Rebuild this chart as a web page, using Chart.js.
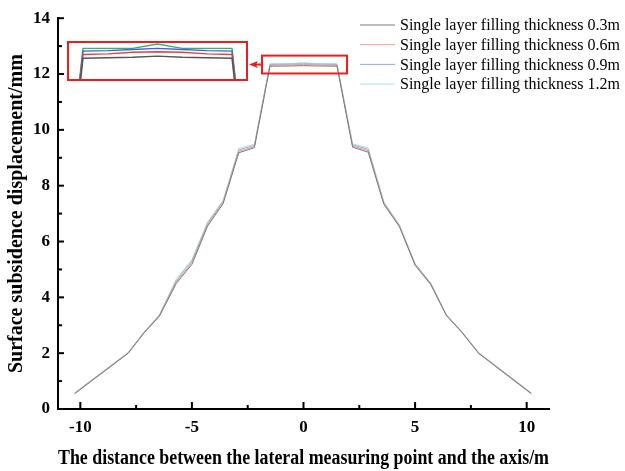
<!DOCTYPE html>
<html>
<head>
<meta charset="utf-8">
<script src="https://cdn.jsdelivr.net/npm/chart.js@4.4.0/dist/chart.umd.min.js"></script>
<style>
  html, body { margin: 0; padding: 0; background: #fff; }
  #wrap { position: relative; width: 625px; height: 471px; }
  #main { position: absolute; left: 0; top: 0; }
  #inset { position: absolute; left: 67px; top: 41px; }
</style>
</head>
<body>
<div id="wrap">
  <canvas id="main" width="625" height="471"></canvas>
  <canvas id="inset" width="181" height="40"></canvas>
</div>
<script>
// distance from the axis (m)
const distances = [-10.25, -7.85, -7.15, -6.45, -5.7, -5.0, -4.3, -3.6, -2.9, -2.2, -1.5, -1.0, -0.5, 0, 0.5, 1.0, 1.5, 2.2, 2.9, 3.6, 4.3, 5.0, 5.7, 6.4, 7.1, 7.85, 10.2];

// surface subsidence (mm) per single layer filling thickness
const thick03 = [0.55, 2.00, 2.72, 3.33, 4.50, 5.18, 6.55, 7.36, 9.18, 9.36, 12.28, 12.285, 12.29, 12.30, 12.29, 12.285, 12.28, 9.38, 9.20, 7.33, 6.53, 5.15, 4.46, 3.35, 2.74, 1.99, 0.55];
const thick06 = [0.56, 2.01, 2.73, 3.35, 4.55, 5.24, 6.60, 7.40, 9.23, 9.40, 12.315, 12.32, 12.335, 12.34, 12.335, 12.32, 12.315, 9.42, 9.25, 7.36, 6.55, 5.17, 4.48, 3.36, 2.75, 2.00, 0.56];
const thick09 = [0.57, 2.02, 2.74, 3.37, 4.60, 5.30, 6.65, 7.44, 9.28, 9.44, 12.345, 12.35, 12.36, 12.37, 12.36, 12.35, 12.345, 9.46, 9.30, 7.39, 6.57, 5.19, 4.50, 3.37, 2.76, 2.01, 0.57];
const thick12 = [0.58, 2.03, 2.75, 3.39, 4.65, 5.36, 6.70, 7.48, 9.33, 9.48, 12.37, 12.37, 12.37, 12.41, 12.37, 12.37, 12.37, 9.50, 9.35, 7.42, 6.59, 5.21, 4.52, 3.38, 2.77, 2.02, 0.58];

const seriesLabels = [
  'Single layer filling thickness 0.3m',
  'Single layer filling thickness 0.6m',
  'Single layer filling thickness 0.9m',
  'Single layer filling thickness 1.2m'
];
const seriesValues = [thick03, thick06, thick09, thick12];
const mainColors = ['#7a7a7a', '#f29a9a', '#8fb0e2', '#a6e6cc'];
const insetColors = ['#555555', '#e8403c', '#3a66d8', '#33b36a'];

const xTicks = [-10, -5, 0, 5, 10];
const xMinorTicks = [-7.5, -2.5, 2.5, 7.5];
const yTicks = [0, 2, 4, 6, 8, 10, 12, 14];
const yMinorTicks = [1, 3, 5, 7, 9, 11, 13];

// zoomed window shown in the inset
const zoomX = [-1.86, 1.95];
const zoomY = [12.02, 12.66];

Chart.defaults.font.family = '"Liberation Serif", "Times New Roman", serif';
Chart.defaults.color = '#000';

function makeDatasets(colors, width) {
  return seriesValues.map((vals, i) => ({
    label: seriesLabels[i],
    data: distances.map((d, j) => ({ x: d, y: vals[j] })),
    borderColor: colors[i],
    backgroundColor: colors[i],
    borderWidth: width,
    pointRadius: 0,
    tension: 0,
    fill: false
  }));
}

const axisDecor = {
  id: 'axisDecor',
  afterDraw(chart) {
    const { ctx, scales: { x, y } } = chart;
    ctx.save();
    ctx.strokeStyle = '#000';
    ctx.lineWidth = 2;
    const seg = (x1, y1, x2, y2) => { ctx.beginPath(); ctx.moveTo(x1, y1); ctx.lineTo(x2, y2); ctx.stroke(); };
    yTicks.forEach(v => { const p = y.getPixelForValue(v); seg(x.left, p, x.left + 6, p); });
    yMinorTicks.forEach(v => { const p = y.getPixelForValue(v); seg(x.left, p, x.left + 4, p); });
    xTicks.forEach(v => { const p = x.getPixelForValue(v); seg(p, y.bottom, p, y.bottom - 7); });
    xMinorTicks.forEach(v => { const p = x.getPixelForValue(v); seg(p, y.bottom, p, y.bottom - 4); });

    // red box around the plateau + arrow to the inset
    const bx1 = x.getPixelForValue(zoomX[0]), bx2 = x.getPixelForValue(zoomX[1]);
    const by1 = y.getPixelForValue(zoomY[1]), by2 = y.getPixelForValue(zoomY[0]);
    ctx.strokeStyle = '#ee1c1c';
    ctx.lineWidth = 2;
    ctx.strokeRect(bx1, by1, bx2 - bx1, by2 - by1);
    const inset = document.getElementById('inset');
    const tipX = inset.offsetLeft + inset.width + 1;
    const ay = (by1 + by2) / 2;
    seg(bx1, ay, tipX + 7, ay);
    ctx.fillStyle = '#ee1c1c';
    ctx.beginPath();
    ctx.moveTo(tipX, ay);
    ctx.lineTo(tipX + 9, ay - 3.5);
    ctx.lineTo(tipX + 7, ay);
    ctx.lineTo(tipX + 9, ay + 3.5);
    ctx.closePath();
    ctx.fill();

    // legend
    ctx.font = '16px "Liberation Serif", "Times New Roman", serif';
    ctx.textBaseline = 'middle';
    ctx.textAlign = 'left';
    chart.data.datasets.forEach((ds, i) => {
      const ly = 25 + i * 19.7;
      ctx.strokeStyle = ds.borderColor;
      ctx.lineWidth = 1;
      seg(360, ly, 395, ly);
      ctx.fillStyle = '#000';
      ctx.fillText(ds.label, 400, ly + 1);
    });
    ctx.restore();
  }
};

new Chart(document.getElementById('main'), {
  type: 'line',
  data: { datasets: makeDatasets(mainColors, 1) },
  options: {
    responsive: false,
    animation: false,
    layout: { padding: { left: 0, top: 11, right: 76, bottom: 0 } },
    plugins: { legend: { display: false }, tooltip: { enabled: false } },
    scales: {
      x: {
        type: 'linear',
        min: -11,
        max: 11,
        afterFit: s => { s.height = 62; },
        afterBuildTicks: s => { s.ticks = xTicks.map(v => ({ value: v })); },
        grid: { display: false, drawTicks: false },
        border: { display: true, color: '#000', width: 2 },
        ticks: { padding: 8, font: { size: 17, weight: 'bold' }, color: '#000' },
        title: {
          display: true,
          text: 'The distance between the lateral measuring point and the axis/m',
          font: { size: 20, weight: 'bold' },
          color: '#000',
          padding: { top: 0, bottom: 0 }
        }
      },
      y: {
        min: 0,
        max: 14,
        afterFit: s => { s.width = 58; },
        afterBuildTicks: s => { s.ticks = yTicks.map(v => ({ value: v })); },
        grid: { display: false, drawTicks: false },
        border: { display: true, color: '#000', width: 2 },
        ticks: { padding: 8, font: { size: 17, weight: 'bold' }, color: '#000' },
        title: {
          display: true,
          text: 'Surface subsidence displacement/mm',
          font: { size: 20, weight: 'bold' },
          color: '#000',
          padding: { top: 5, bottom: 0 }
        }
      }
    }
  },
  plugins: [axisDecor]
});

const insetFrame = {
  id: 'insetFrame',
  afterDraw(chart) {
    const { ctx, width, height } = chart;
    ctx.save();
    ctx.strokeStyle = '#ee1c1c';
    ctx.lineWidth = 2;
    ctx.strokeRect(1, 1, width - 2, height - 2);
    ctx.restore();
  }
};

new Chart(document.getElementById('inset'), {
  type: 'line',
  data: { datasets: makeDatasets(insetColors, 1.4) },
  options: {
    responsive: false,
    animation: false,
    layout: { padding: 0 },
    plugins: { legend: { display: false }, tooltip: { enabled: false } },
    scales: {
      x: { type: 'linear', display: false, min: -1.822, max: 1.822 },
      y: { display: false, min: 12.074, max: 12.437 }
    }
  },
  plugins: [insetFrame]
});
</script>
</body>
</html>
